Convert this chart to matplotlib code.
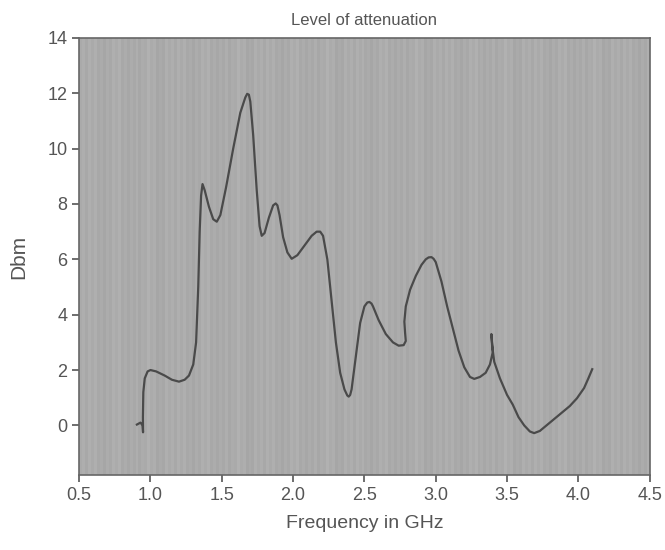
import numpy as np
import matplotlib
matplotlib.use("Agg")
import matplotlib.pyplot as plt

# traced curve (GHz, Dbm)
freq = [0.905, 0.93, 0.945, 0.948, 0.947, 0.95, 0.96, 0.98, 1.0, 1.04, 1.1, 1.15,
        1.2, 1.24, 1.27, 1.3, 1.32, 1.335, 1.345, 1.355, 1.365, 1.38, 1.41, 1.44,
        1.465, 1.49, 1.53, 1.58, 1.63, 1.665, 1.678, 1.69, 1.70, 1.72, 1.745, 1.765, 1.78,
        1.80, 1.83, 1.86, 1.878, 1.89, 1.905, 1.93, 1.96, 1.99, 2.03, 2.08, 2.13, 2.165,
        2.19, 2.21, 2.24, 2.27, 2.30, 2.33, 2.36, 2.38, 2.39, 2.40, 2.41, 2.44, 2.47,
        2.50, 2.52, 2.535, 2.55, 2.56, 2.60, 2.65, 2.70, 2.74, 2.775, 2.79, 2.785, 2.78,
        2.79, 2.82, 2.86, 2.90, 2.93, 2.95, 2.97, 2.985, 3.00, 3.04, 3.08, 3.12, 3.16,
        3.20, 3.24, 3.27, 3.31, 3.35, 3.38, 3.40, 3.39, 3.395, 3.41, 3.45, 3.50, 3.54,
        3.58, 3.62, 3.66, 3.69, 3.73, 3.80, 3.87, 3.94, 3.99, 4.04, 4.07, 4.097]
dbm = [0.03, 0.1, 0.0, -0.25, 0.3, 1.2, 1.7, 1.95, 2.0, 1.95, 1.8, 1.65,
       1.58, 1.65, 1.8, 2.2, 3.0, 5.0, 7.0, 8.3, 8.72, 8.5, 7.9, 7.45,
       7.36, 7.6, 8.6, 10.0, 11.3, 11.85, 11.98, 11.95, 11.7, 10.5, 8.5, 7.2, 6.85,
       6.95, 7.5, 7.95, 8.02, 7.95, 7.6, 6.8, 6.25, 6.02, 6.15, 6.5, 6.85, 7.0,
       7.0, 6.85, 6.0, 4.5, 3.0, 1.9, 1.3, 1.08, 1.04, 1.1, 1.3, 2.5, 3.7,
       4.3, 4.44, 4.46, 4.4, 4.3, 3.8, 3.3, 3.0, 2.88, 2.9, 3.05, 3.35, 3.75,
       4.3, 4.9, 5.4, 5.8, 6.0, 6.07, 6.08, 6.02, 5.9, 5.2, 4.3, 3.5, 2.7,
       2.1, 1.75, 1.68, 1.75, 1.9, 2.2, 2.65, 3.3, 2.9, 2.3, 1.7, 1.1, 0.75,
       0.3, 0.0, -0.22, -0.28, -0.2, 0.1, 0.4, 0.7, 0.98, 1.35, 1.7, 2.03]

xticks = [0.5, 1.0, 1.5, 2.0, 2.5, 3.0, 3.5, 4.0, 4.5]
yticks = [0, 2, 4, 6, 8, 10, 12, 14]

plt.rcParams['font.family'] = ['Liberation Sans', 'DejaVu Sans']
txt = "#555555"

fig = plt.figure(figsize=(6.65, 5.5), dpi=100)
ax = fig.add_axes([0.119, 0.136, 0.858, 0.795])

# paper-like striped background
stripes = np.tile(np.array([0.665, 0.68, 0.655, 0.675, 0.66, 0.685]), 32)
bands = np.tile(np.array([0.0, 0.0, 0.005, 0.01, 0.005, 0.0, -0.005, -0.01, -0.005, 0.0]), 20)[:stripes.size]
bg = (stripes + bands)[None, :]
ax.imshow(bg, cmap="gray", vmin=0, vmax=1, aspect="auto",
          extent=[0.5, 4.5, -1.8, 14], interpolation="nearest", zorder=0)

ax.plot(freq, dbm, color="#4a4a4a", lw=1.6, zorder=2, solid_joinstyle="round")

ax.set_xlim(0.5, 4.5)
ax.set_ylim(-1.8, 14)
ax.set_xticks(xticks)
ax.set_xticklabels([f"{v:.1f}" for v in xticks])
ax.set_yticks(yticks)
ax.tick_params(labelsize=13, colors=txt, length=5, width=1.2)

for s in ax.spines.values():
    s.set_color("#666666")
    s.set_linewidth(1.2)

ax.set_title("Level of attenuation", fontsize=12, color=txt, pad=9)
ax.set_xlabel("Frequency in GHz", fontsize=14, color=txt, labelpad=8)
ax.set_ylabel("Dbm", fontsize=15, color=txt, labelpad=14)

fig.savefig("out.png", dpi=100)
